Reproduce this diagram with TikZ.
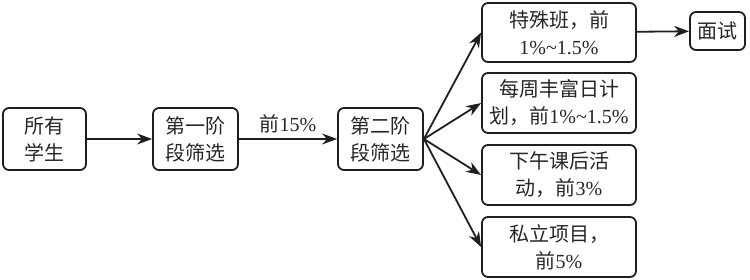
\documentclass[tikz,border=0pt]{standalone}
\usepackage{fontspec}
\setmainfont{Liberation Serif}
\newfontfamily\cjk{Noto Sans CJK SC}
\usetikzlibrary{arrows.meta}
\begin{document}
\begin{tikzpicture}[x=1pt,y=-1pt,
  box/.style={draw=black!88,line width=1.8pt,rounded corners=6pt,align=center,
    inner sep=0pt,font=\fontsize{20}{27}\selectfont,text=black!85},
  conn/.style={draw=black!88,line width=1.8pt,-{Stealth[length=15pt,width=11pt]}}]
\useasboundingbox (0,0) rectangle (750,279);
\node[box,minimum width=83pt,minimum height=62pt] (s0) at (44.5,139) {{\cjk 所有}\\{\cjk 学生}};
\node[box,minimum width=85pt,minimum height=62pt] (s1) at (195.5,139) {{\cjk 第一阶}\\{\cjk 段筛选}};
\node[box,minimum width=85pt,minimum height=62pt] (s2) at (380.5,139) {{\cjk 第二阶}\\{\cjk 段筛选}};
\node[box,minimum width=154pt,minimum height=59pt] (a) at (559,32.5) {{\cjk 特殊班，前}\\1\%\textasciitilde1.5\%};
\node[box,minimum width=55pt,minimum height=38pt] (iv) at (717.5,31) {{\cjk 面试}};
\node[box,minimum width=154pt,minimum height=60pt] (b) at (559,103) {{\cjk 每周丰富日计}\\{\cjk 划，前}1\%\textasciitilde1.5\%};
\node[box,minimum width=154pt,minimum height=60pt] (c) at (559,175) {{\cjk 下午课后活}\\{\cjk 动，前}3\%};
\node[box,minimum width=154pt,minimum height=60pt] (d) at (559,247) {{\cjk 私立项目，}\\{\cjk 前}5\%};
\draw[conn] (s0) -- (s1);
\draw[conn] (s1) -- node[above=2pt,font=\fontsize{20}{24}\selectfont,text=black!85] (lbl) {{\cjk 前}15\%} (s2);
\draw[conn] (s2.east) -- (a.west);
\draw[conn] (s2.east) -- (b.west);
\draw[conn] (s2.east) -- (c.west);
\draw[conn] (s2.east) -- (d.west);
\draw[conn] (a) -- (iv);
\end{tikzpicture}
\end{document}
